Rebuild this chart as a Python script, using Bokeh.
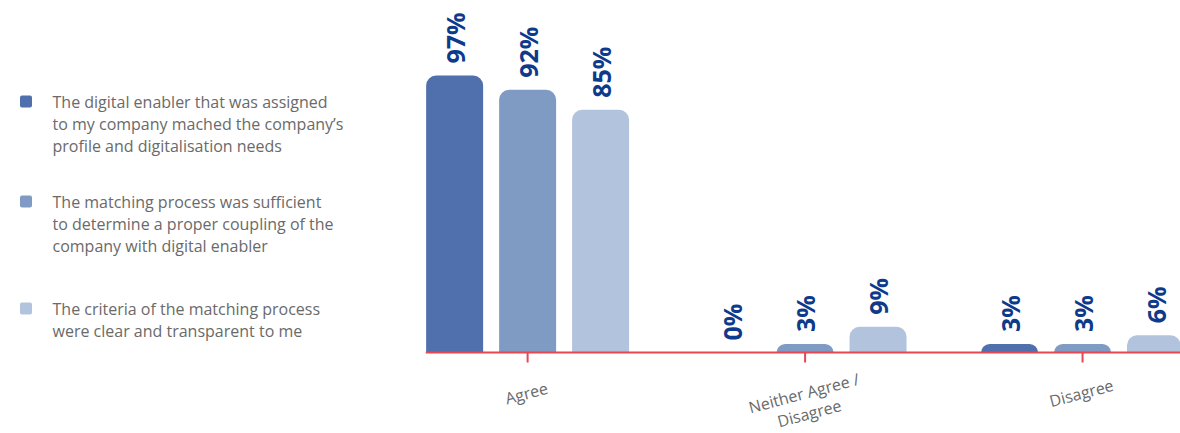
import numpy as np
from bokeh.plotting import figure
from bokeh.models import Range1d, ColumnDataSource, Span
from bokeh.layouts import row
from bokeh.core.properties import value
from bokeh.embed import file_html
from bokeh.resources import INLINE

# ---- data ----
categories = ["Agree", "Neither Agree /\nDisagree", "Disagree"]
series_names = [
    "The digital enabler that was assigned\nto my company mached the company\u2019s\nprofile and digitalisation needs",
    "The matching process was sufficient\nto determine a proper coupling of the\ncompany with digital enabler",
    "The criteria of the matching process\nwere clear and transparent to me",
]
series1 = [97, 0, 3]
series2 = [92, 3, 3]
series3 = [85, 9, 6]
series_values = [series1, series2, series3]
colors = ["#4f70ad", "#7f9bc4", "#b2c3de"]

FONT = "Open Sans"
GRAY = "#6a6a6a"
NAVY = "#0d3a8b"
RED = "#e8474f"

# ---- main chart ----
W_MAIN, H = 755, 433
PX_PER_UNIT = 2.856
Y_TOP = 352 / PX_PER_UNIT
Y_BOT = -(H - 352) / PX_PER_UNIT
pitch = 0.263
bar_w = 0.2054

p = figure(width=W_MAIN, height=H, output_backend="svg", toolbar_location=None,
           x_range=Range1d(0.132, 2.853), y_range=Range1d(Y_BOT, Y_TOP),
           x_axis_location=None, y_axis_location=None,
           min_border_left=0, min_border_right=0, min_border_top=0, min_border_bottom=0)
p.outline_line_color = None
p.xgrid.visible = False
p.ygrid.visible = False
p.background_fill_color = None
p.border_fill_color = None

centers = np.arange(len(categories)) + 0.5
for i, (vals, col) in enumerate(zip(series_values, colors)):
    xs = centers + (i - 1) * pitch
    src = ColumnDataSource(dict(x=xs, top=vals, lab=[f"{v}%" for v in vals]))
    p.vbar(x="x", top="top", bottom=0, width=bar_w, source=src, fill_color=col,
           line_color=None, border_radius=(10, 10, 0, 0))
    p.text(x="x", y="top", text="lab", source=src, angle=np.pi / 2,
           text_align="left", text_baseline="middle", y_offset=-12,
           text_font=value(FONT), text_font_style="bold", text_font_size="25px",
           text_color=NAVY)

# baseline axis, ticks and category labels
p.add_layout(Span(location=0, dimension="width", line_color=RED, line_width=2))
tick_len = 10 / PX_PER_UNIT
p.segment(x0=centers, y0=0, x1=centers, y1=-tick_len, line_color=RED, line_width=2)
p.text(x=centers, y=0, text=categories, angle=0.26, x_offset=-4, y_offset=30,
       text_align="center", text_baseline="top", text_font=value(FONT),
       text_font_size="16px", text_line_height=0.95, text_color=GRAY)

# ---- legend panel ----
W_LEG = 1180 - W_MAIN
lg = figure(width=W_LEG, height=H, output_backend="svg", toolbar_location=None,
            x_range=Range1d(0, W_LEG), y_range=Range1d(H, 0),
            x_axis_location=None, y_axis_location=None,
            min_border_left=0, min_border_right=0, min_border_top=0, min_border_bottom=0)
lg.outline_line_color = None
lg.xgrid.visible = False
lg.ygrid.visible = False
sq_y = [101, 201, 308]
lg.rect(x=25.5, y=sq_y, width=12, height=12, fill_color=colors, line_color=None,
        border_radius=2)
lg.text(x=52, y=[y - 11 for y in sq_y], text=series_names, text_align="left",
        text_baseline="top", text_font=value(FONT), text_font_size="16px",
        text_line_height=1.0, text_color=GRAY)

layout = row(lg, p, spacing=0)
open("out.html", "w").write(file_html(layout, INLINE))
